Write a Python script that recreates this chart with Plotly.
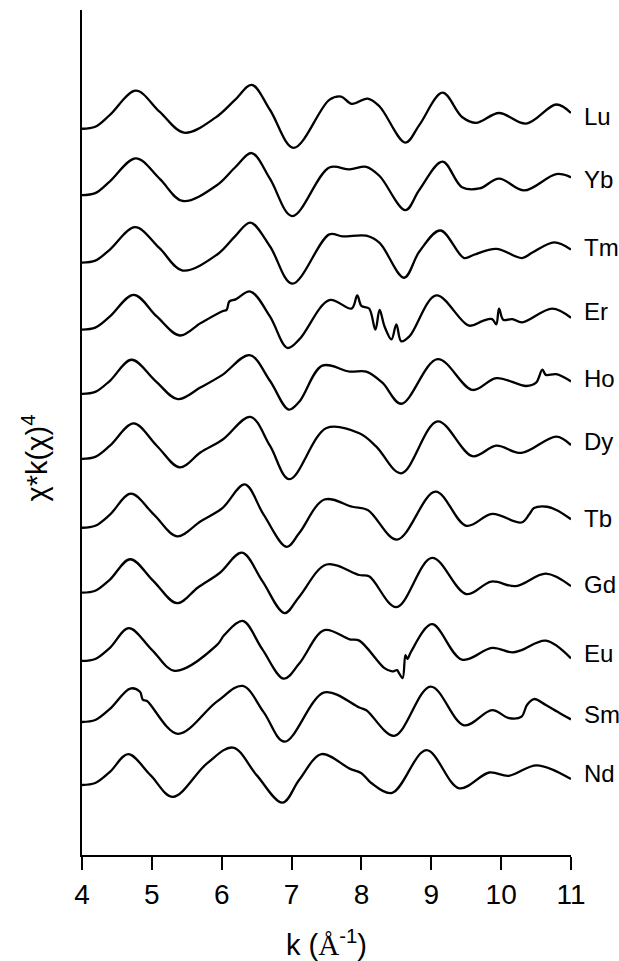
import plotly.graph_objects as go

elements = ["Lu", "Yb", "Tm", "Er", "Ho", "Dy", "Tb", "Gd", "Eu", "Sm", "Nd"]
offsets = [10.0, 8.99, 7.96, 6.94, 5.96, 4.97, 3.92, 2.93, 1.89, 0.96, 0.0]
label_dy = [0.18, 0.24, 0.23, 0.27, 0.24, 0.26, 0.14, 0.12, 0.12, 0.11, 0.17]

k_Lu = [4.00,4.19,4.40,4.77,5.11,5.46,5.91,6.19,6.43,6.69,7.03,7.54,7.71,7.86,8.09,8.26,8.63,8.83,9.16,9.44,9.64,9.97,10.36,10.79,11.00]
v_Lu = [0,.03,.21,.58,.26,-.06,.17,.44,.67,.29,-.29,.44,.49,.38,.46,.34,-.21,.06,.55,.18,.09,.24,.08,.37,.24]

k_Yb = [4.00,4.19,4.40,4.77,5.11,5.44,5.93,6.19,6.43,6.69,7.01,7.54,7.83,8.07,8.26,8.63,8.83,9.16,9.44,9.69,9.97,10.33,10.79,11.00]
v_Yb = [0,.03,.21,.56,.25,-.09,.15,.42,.64,.25,-.32,.42,.39,.43,.29,-.23,.08,.51,.12,.10,.25,.07,.32,.27]

k_Tm = [4.00,4.19,4.40,4.76,5.11,5.44,5.93,6.19,6.41,6.69,7.01,7.54,7.73,8.07,8.26,8.61,8.83,9.13,9.47,9.61,9.93,10.30,10.44,10.76,11.00]
v_Tm = [0,.03,.20,.54,.22,-.12,.12,.40,.61,.25,-.32,.43,.40,.41,.30,-.23,.17,.49,.07,.12,.21,.07,.15,.31,.20]

k_Er = [4.00,4.19,4.40,4.74,5.07,5.40,5.70,6.01,6.07,6.11,6.20,6.41,6.69,6.94,7.11,7.54,7.86,7.94,8.00,8.11,8.20,8.26,8.33,8.43,8.50,8.57,8.69,9.07,9.54,9.73,9.87,9.93,9.97,10.03,10.16,10.30,10.73,11.00]
v_Er = [0,.03,.20,.53,.20,-.09,.10,.28,.30,.43,.46,.58,.20,-.28,-.15,.45,.32,.52,.36,.32,0,.30,.05,-.15,.08,-.18,-.10,.52,.06,.13,.16,.08,.32,.15,.16,.11,.32,.18]

k_Ho = [4.00,4.19,4.40,4.71,5.05,5.37,5.70,6.01,6.40,6.69,6.96,7.11,7.44,7.83,8.07,8.30,8.57,9.09,9.59,9.93,10.36,10.50,10.59,10.64,10.79,11.00]
v_Ho = [0,.03,.20,.52,.20,-.08,.10,.29,.59,.20,-.24,-.12,.43,.34,.34,.17,-.15,.53,.06,.24,.12,.17,.37,.29,.30,.19]

k_Dy = [4.00,4.19,4.40,4.74,5.07,5.40,5.70,6.01,6.41,6.69,6.97,7.50,7.97,8.21,8.57,9.09,9.59,9.93,10.29,10.79,11.00]
v_Dy = [0,.03,.20,.54,.20,-.13,.10,.29,.64,.20,-.31,.47,.39,.19,-.22,.57,.04,.20,.09,.34,.21]

k_Tb = [4.00,4.19,4.40,4.70,5.03,5.36,5.70,6.01,6.33,6.60,6.93,7.11,7.47,7.87,8.09,8.51,9.06,9.50,9.87,10.29,10.40,10.47,10.66,10.79,11.00]
v_Tb = [0,.03,.20,.52,.20,-.13,.10,.30,.66,.20,-.29,-.08,.43,.32,.27,-.18,.55,.03,.21,.08,.20,.30,.32,.27,.13]

k_Gd = [4.00,4.19,4.40,4.69,5.02,5.36,5.66,5.97,6.29,6.58,6.90,7.11,7.50,7.97,8.11,8.50,9.01,9.50,9.86,10.21,10.64,11.00]
v_Gd = [0,.03,.20,.51,.18,-.16,.08,.30,.61,.18,-.31,-.06,.43,.27,.25,-.22,.53,-.02,.17,.10,.29,.10]

k_Eu = [4.00,4.19,4.40,4.67,5.00,5.33,5.93,6.04,6.30,6.58,6.89,7.11,7.47,7.83,7.97,8.33,8.44,8.51,8.54,8.59,8.63,8.66,8.71,9.01,9.44,9.87,10.16,10.30,10.64,11.00]
v_Eu = [0,.03,.20,.50,.17,-.15,.24,.40,.61,.18,-.27,-.04,.47,.33,.31,-.11,-.16,-.14,-.19,-.26,.09,.03,.14,.56,.02,.20,.13,.17,.31,.04]

k_Sm = [4.00,4.19,4.40,4.69,4.83,4.87,4.93,5.37,5.93,6.30,6.60,6.90,7.47,7.97,8.07,8.47,8.99,9.47,9.87,10.11,10.29,10.37,10.47,10.64,10.80,10.93,11.00]
v_Sm = [0,.03,.20,.51,.46,.34,.32,-.18,.31,.55,.15,-.30,.45,.22,.18,-.21,.54,-.05,.18,.06,.08,.26,.35,.26,.16,.08,.04]

k_Nd = [4.00,4.19,4.40,4.66,4.98,5.30,5.79,6.16,6.50,6.87,7.11,7.43,7.83,8.00,8.14,8.44,8.93,9.40,9.83,10.11,10.51,11.00]
v_Nd = [0,.03,.20,.47,.15,-.18,.33,.57,.15,-.27,.08,.47,.25,.18,.03,-.12,.53,-.05,.19,.14,.30,.09]

series_k = [k_Lu, k_Yb, k_Tm, k_Er, k_Ho, k_Dy, k_Tb, k_Gd, k_Eu, k_Sm, k_Nd]
series_v = [v_Lu, v_Yb, v_Tm, v_Er, v_Ho, v_Dy, v_Tb, v_Gd, v_Eu, v_Sm, v_Nd]

x_ticks = [4, 5, 6, 7, 8, 9, 10, 11]

FONT = "Liberation Sans, Arial, sans-serif"

fig = go.Figure()
for name, off, ks, vs in zip(elements, offsets, series_k, series_v):
    fig.add_trace(go.Scatter(
        x=ks, y=[v + off for v in vs], mode="lines", name=name,
        line=dict(color="black", width=2.3, shape="spline", smoothing=1.0),
        showlegend=False, hoverinfo="skip"))

annotations = []
for name, off, dy in zip(elements, offsets, label_dy):
    annotations.append(dict(x=1.0225, xref="paper", y=off + dy, yref="y",
                            text=name, showarrow=False, xanchor="left", yanchor="middle",
                            font=dict(family=FONT, size=24, color="black")))
annotations.append(dict(x=0.5, xref="paper", y=-0.104, yref="paper",
                        text="k (<span style=\"font-family:'Liberation Serif'\">Å</span><sup>-1</sup>)",
                        showarrow=False, xanchor="center", yanchor="middle",
                        font=dict(family=FONT, size=29, color="black")))
annotations.append(dict(x=-0.097, xref="paper", y=0.47, yref="paper",
                        text="χ*k(χ)<sup>4</sup>", showarrow=False, textangle=-90,
                        xanchor="center", yanchor="middle",
                        font=dict(family=FONT, size=29, color="black")))

fig.update_layout(
    width=619, height=961,
    margin=dict(l=82, r=48, t=10, b=106),
    plot_bgcolor="white", paper_bgcolor="white",
    font=dict(family=FONT, color="black"),
    annotations=annotations,
    xaxis=dict(range=[4, 11], tickvals=x_ticks, ticktext=[str(t) for t in x_ticks],
               showline=True, linecolor="black", linewidth=2, mirror=False,
               ticks="outside", ticklen=13, tickwidth=2, tickcolor="black",
               showgrid=False, zeroline=False,
               tickfont=dict(family=FONT, size=28, color="black")),
    yaxis=dict(range=[-1.067, 11.81], showline=True, linecolor="black", linewidth=2,
               showticklabels=False, ticks="", showgrid=False, zeroline=False),
)

fig.write_html(
    "out.html",
    config={"displayModeBar": False},
    post_script="document.body.style.margin='0';document.body.style.overflow='hidden';"
                "document.documentElement.style.overflow='hidden';",
)
